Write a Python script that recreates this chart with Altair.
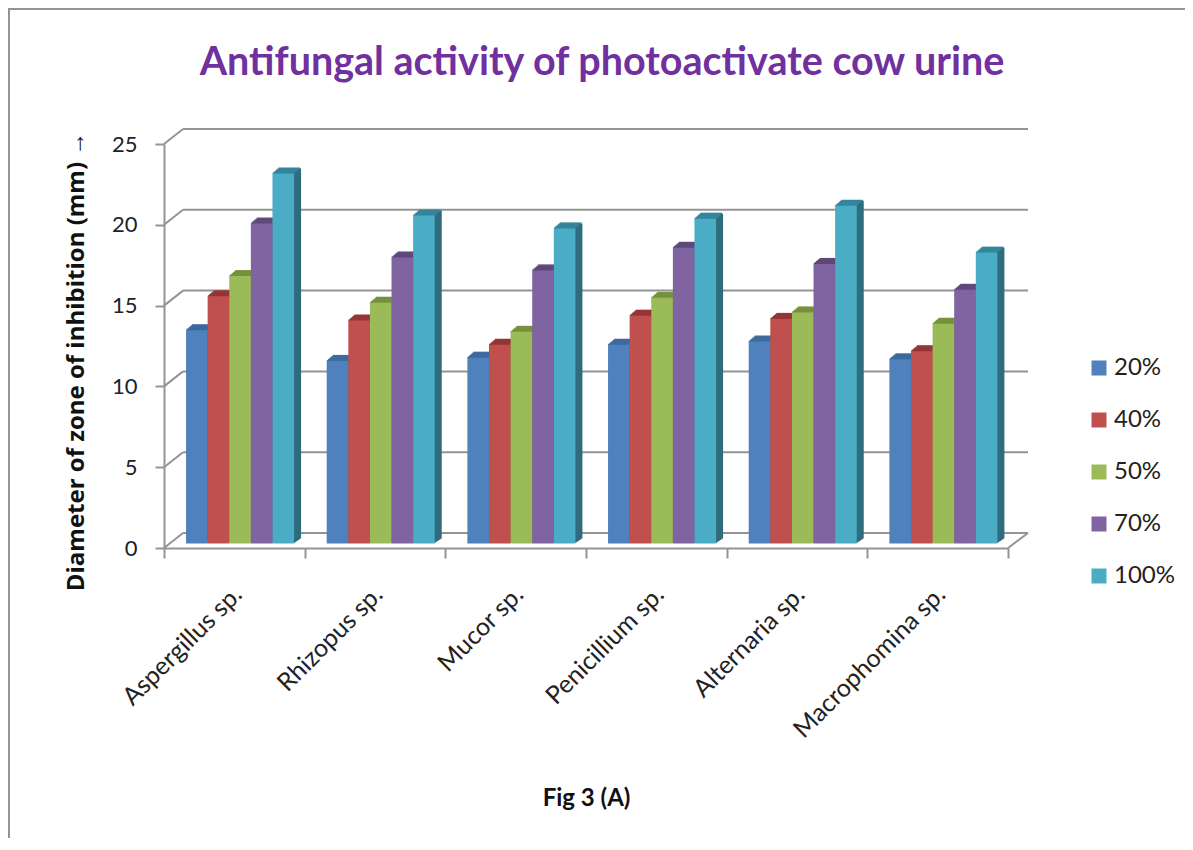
import altair as alt
import pandas as pd

cats = ["Aspergillus sp.", "Rhizopus sp.", "Mucor sp.", "Penicillium sp.", "Alternaria sp.", "Macrophomina sp."]
pcts = ["20%", "40%", "50%", "70%", "100%"]
v20 = [13.2, 11.3, 11.5, 12.3, 12.5, 11.4]
v40 = [15.3, 13.8, 12.3, 14.1, 13.9, 11.9]
v50 = [16.55, 14.9, 13.1, 15.2, 14.3, 13.6]
v70 = [19.8, 17.7, 16.9, 18.3, 17.3, 15.7]
v100 = [22.9, 20.3, 19.5, 20.1, 20.9, 18.0]
front = ["#4F81BD", "#C0504D", "#9BBB59", "#8064A2", "#4BACC6"]
side = ["#3a618e", "#903c3a", "#748c43", "#604b7a", "#2f6c7d"]
top = ["#3e6a9e", "#943634", "#76923c", "#5f497a", "#34859c"]
grid_vals = [0, 5, 10, 15, 20, 25]

FONT = "Lato"
GREY = "#949494"
W, H = 844, 404
PL, PT = 156, 136
DX, DY = 19, 15          # wall depth
BASE = 4.5               # bars stand a little behind the front of the floor
SLOTS = 6.51             # bar widths per category band
LEAD = 1.02              # gap before the first bar, in bar widths

rows = []
for s, vals in enumerate([v20, v40, v50, v70, v100]):
    for c, (name, v) in enumerate(zip(cats, vals)):
        x0 = c + (s + LEAD) / SLOTS
        rows.append(dict(cat=name, pct=pcts[s], val=v, side=side[s], top=top[s],
                         x0=x0, x1=x0 + 1 / SLOTS))
df = pd.DataFrame(rows)
gdf = pd.DataFrame({"g": grid_vals})
one = pd.DataFrame({"a": [0]})

yscale = alt.Scale(domain=[0, 25], nice=False)
Xq = alt.X("x0:Q", scale=alt.Scale(domain=[0, 6], nice=False, zero=False), axis=None)
X2 = alt.X2("x1:Q")
Y_plain = alt.Y("val:Q", scale=yscale, axis=None, stack=None)

layers = []

# axes (band scale for the categories)
layers.append(alt.Chart(df).mark_rule(opacity=0).encode(
    x=alt.X("cat:N", sort=cats, scale=alt.Scale(paddingInner=0, paddingOuter=0), axis=alt.Axis(
        title="Fig 3 (A)", titleFont=FONT, titleFontSize=24, titleFontWeight="bold",
        titleColor="#111", titleX=422, titleY=250, titleBaseline="middle",
        labelAngle=-45, labelAlign="right", labelBaseline="middle", labelFont=FONT,
        labelFontSize=25, labelColor="#222", labelPadding=32, labelOffset=3, labelOverlap=False,
        labelLimit=300, tickBand="extent", tickSize=10, tickWidth=2, tickColor=GREY,
        domainColor=GREY, domainWidth=2, grid=False)),
    y=alt.Y("val:Q", scale=yscale, stack=None, axis=alt.Axis(
        title="Diameter of zone of inhibition (mm) →", titleFont="Open Sans", titleFontSize=24,
        titleFontWeight="bold", titleColor="#111", titleX=-88, titleY=217,
        titleAngle=-90, titleAnchor="middle", titleBaseline="middle", titleAlign="center",
        values=grid_vals, labelFont=FONT, labelFontSize=22, labelColor="#222",
        labelPadding=18, tickSize=9, tickWidth=2, tickColor=GREY,
        domainColor=GREY, domainWidth=2, grid=False)),
))

# outer frame
layers.append(alt.Chart(one).mark_rule(color=GREY, strokeWidth=2).encode(
    x=alt.value(-PL + 1), y=alt.value(-PT), y2=alt.value(H + 400)))
layers.append(alt.Chart(one).mark_rule(color=GREY, strokeWidth=2).encode(
    x=alt.value(-PL), x2=alt.value(W + 200), y=alt.value(-PT + 1)))

# back wall gridlines + connectors
GY = alt.Y("g:Q", scale=yscale, axis=None)
layers.append(alt.Chart(gdf).mark_rule(color=GREY, strokeWidth=2, yOffset=-DY).encode(
    x=alt.value(DX), x2=alt.value(W + DX + 1), y=GY))
layers.append(alt.Chart(gdf).mark_rule(color=GREY, strokeWidth=2, y2Offset=-DY).encode(
    x=alt.value(0), x2=alt.value(DX), y=GY, y2=alt.Y2("g:Q")))
layers.append(alt.Chart(gdf[gdf.g == 0]).mark_rule(color=GREY, strokeWidth=2, y2Offset=-DY).encode(
    x=alt.value(W), x2=alt.value(W + DX + 1), y=GY, y2=alt.Y2("g:Q")))

# extruded depth (side faces)
for i in range(1, 8):
    d = i * 5 / 7
    layers.append(alt.Chart(df).mark_bar(
        xOffset=i, x2Offset=i, yOffset=-BASE - d, y2Offset=-BASE - d
    ).encode(x=Xq, x2=X2, y=Y_plain, y2=alt.datum(0),
             fill=alt.Fill("side:N", scale=None)))

# top faces
for i in range(1, 7):
    layers.append(alt.Chart(df).mark_bar(
        xOffset=i * 7 / 6 - 1, x2Offset=i * 7 / 6 - 1, yOffset=-BASE - i, y2Offset=-BASE - i + 1.5
    ).encode(x=Xq, x2=X2, y=Y_plain, y2=alt.Y2("val:Q"),
             fill=alt.Fill("top:N", scale=None)))

# front faces + legend
layers.append(alt.Chart(df).mark_bar(yOffset=-BASE, y2Offset=-BASE).encode(
    x=Xq, x2=X2, y=Y_plain, y2=alt.datum(0),
    color=alt.Color("pct:N", sort=pcts, scale=alt.Scale(domain=pcts, range=front),
                    legend=alt.Legend(
                        title=None, orient="none", legendX=923, legendY=212,
                        symbolType="square", symbolSize=225, symbolStrokeWidth=0,
                        labelFont=FONT, labelFontSize=24, labelColor="#222",
                        labelOffset=3, rowPadding=28)),
))

chart = alt.layer(*layers).resolve_scale(x="independent").resolve_axis(y="independent").properties(
    width=W, height=H,
    title=alt.TitleParams(
        "Antifungal activity of photoactivate cow urine",
        font=FONT, fontSize=39.5, fontWeight="bold", color="#7030A0",
        anchor="middle", frame="group", dx=16, offset=-76),
    padding={"left": PL, "top": PT, "right": 177, "bottom": 290},
    autosize=alt.AutoSizeParams(type="none"),
).configure_view(stroke=None)

chart.save("out.html", embed_options={"renderer": "svg", "actions": False})
